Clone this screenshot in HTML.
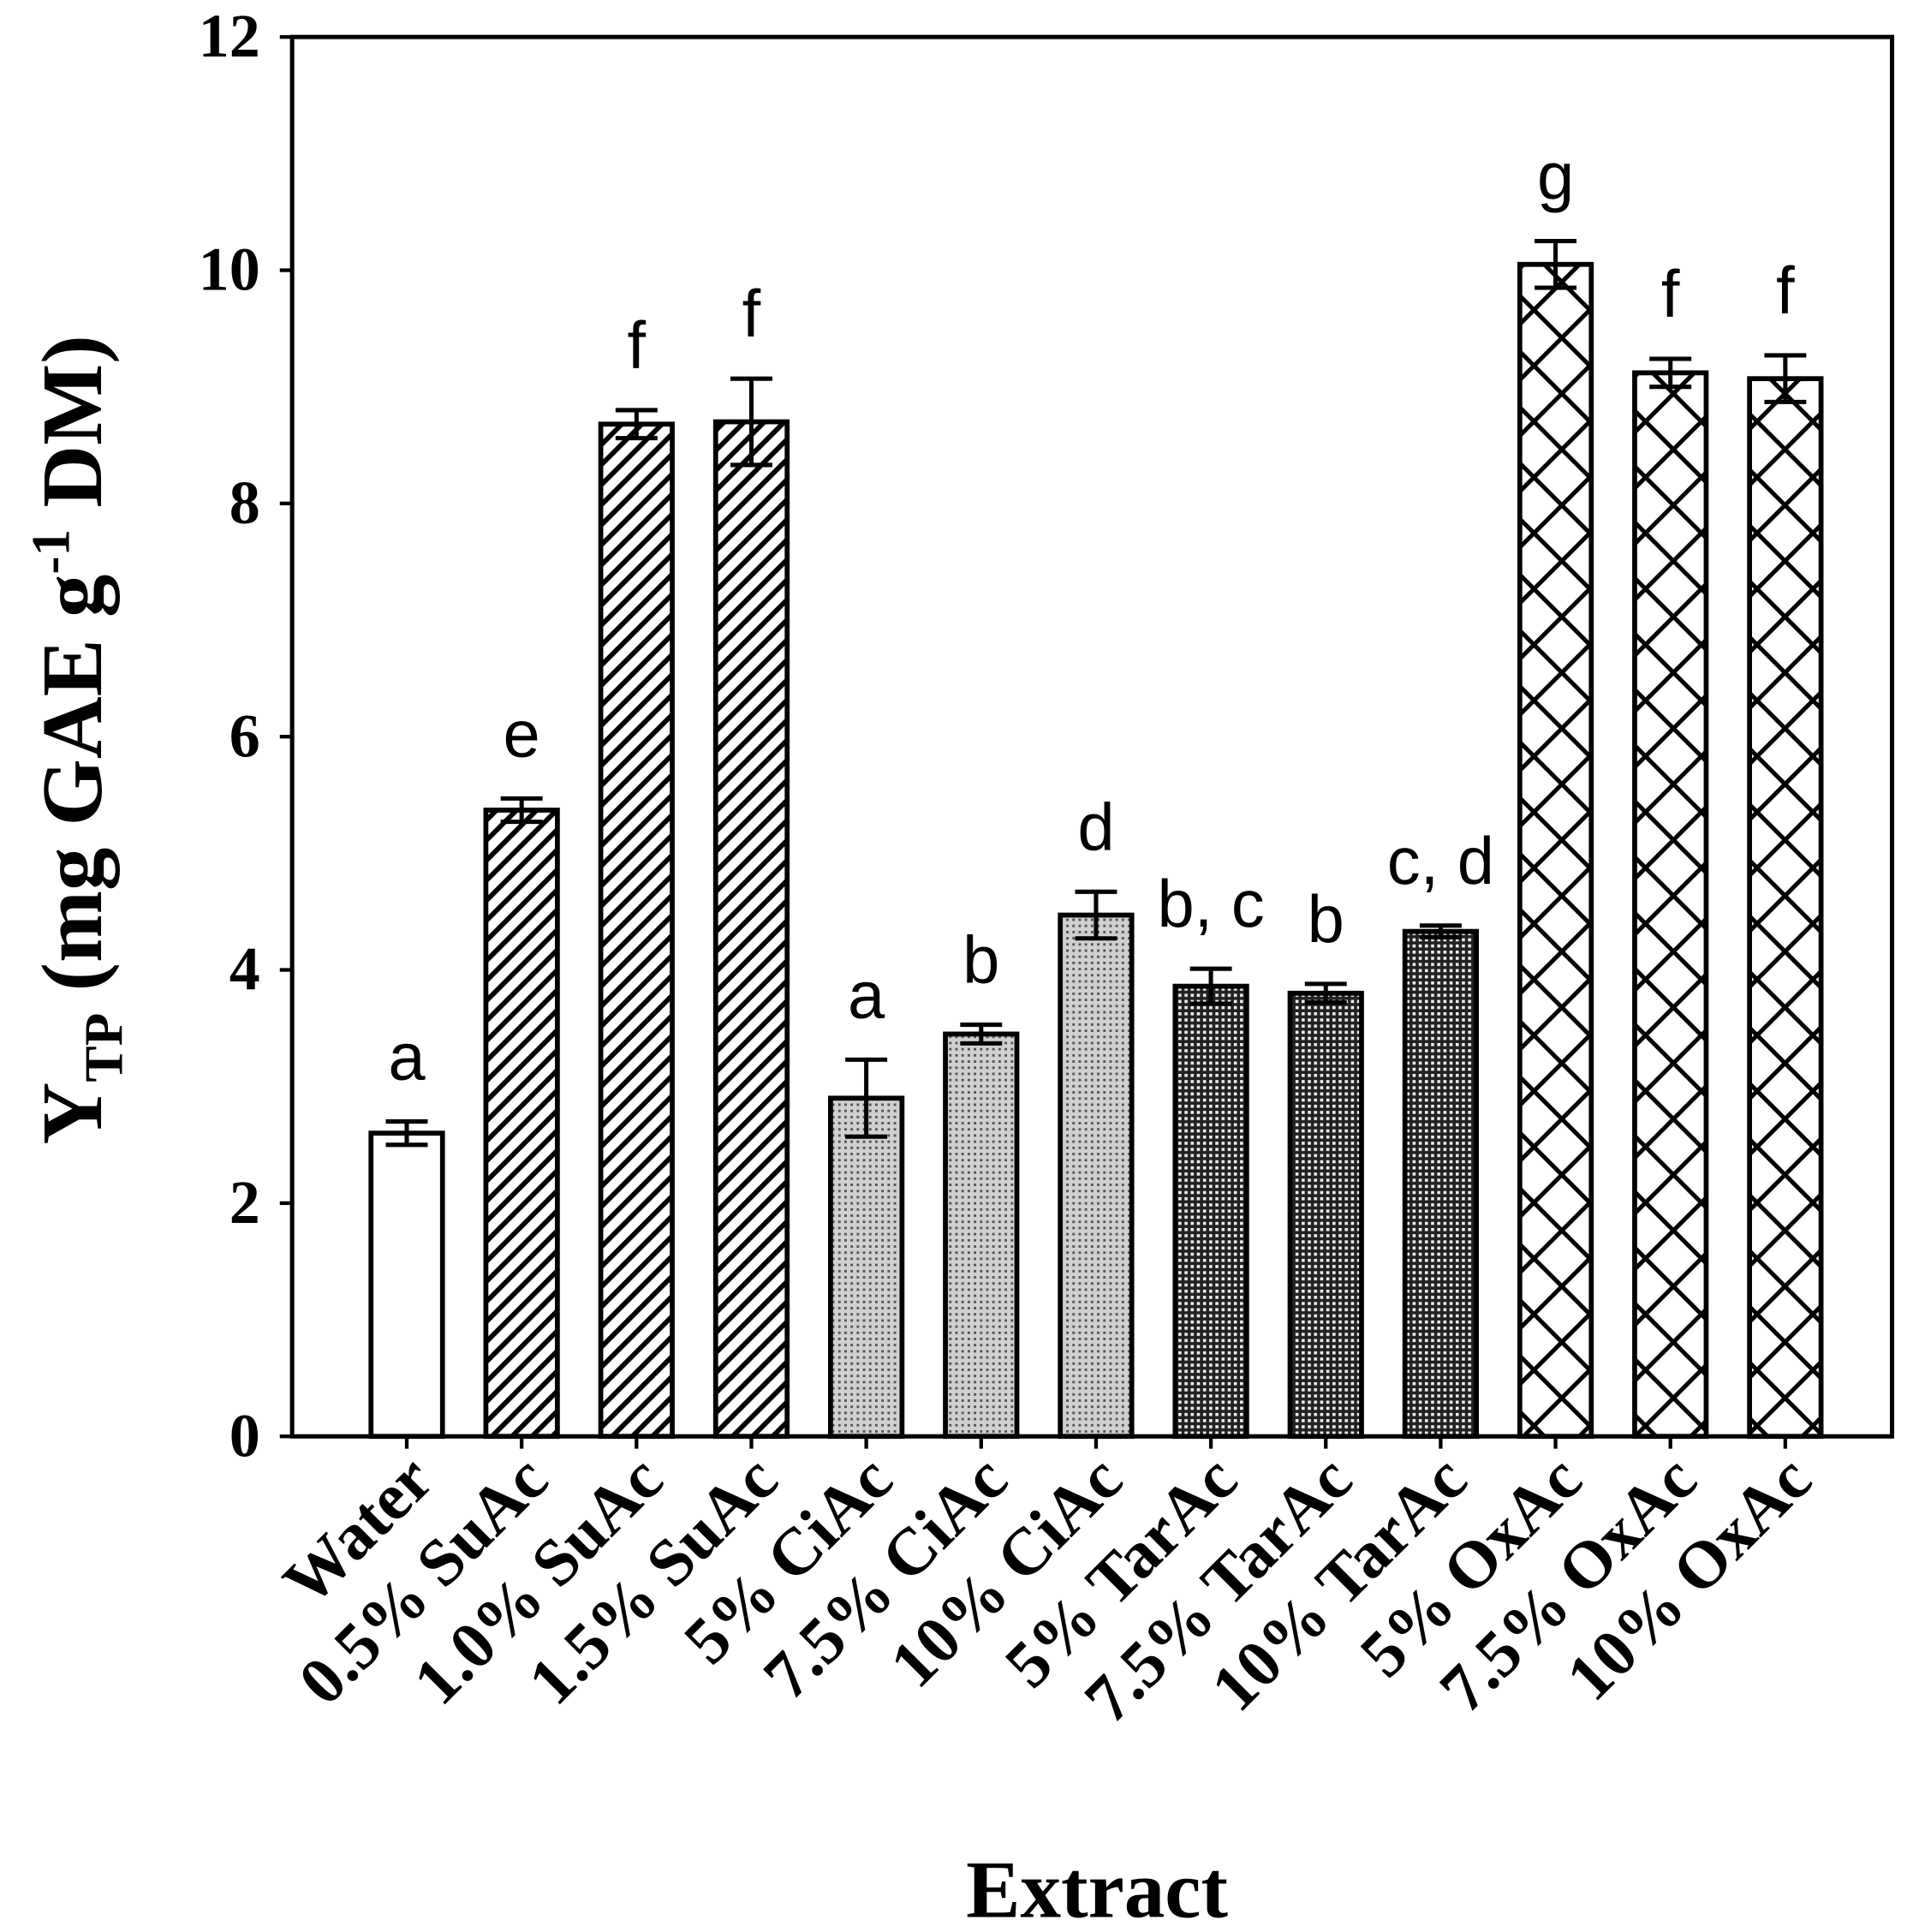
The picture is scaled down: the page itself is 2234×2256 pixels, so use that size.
<!DOCTYPE html>
<html><head><meta charset="utf-8"><style>html,body{margin:0;padding:0;background:#fff}svg{display:block}</style></head>
<body>
<svg id="chart" width="2234" height="2256" viewBox="0 0 1552 1567" preserveAspectRatio="none" xmlns="http://www.w3.org/2000/svg">
<defs>
<pattern id="diag" patternUnits="userSpaceOnUse" width="11.5" height="11.5" patternTransform="rotate(45)">
<rect width="11.5" height="11.5" fill="#fff"/><rect x="0" y="0" width="4" height="11.5" fill="#000"/></pattern>
<pattern id="dotLight" patternUnits="userSpaceOnUse" width="5" height="5">
<rect width="5" height="5" fill="#d0d0d0"/><rect width="2" height="2" fill="#555"/></pattern>
<pattern id="dotDark" patternUnits="userSpaceOnUse" width="5" height="5">
<rect width="5" height="5" fill="#222"/><rect x="1" y="1" width="2.5" height="2.5" fill="#eee"/></pattern>
<pattern id="cross" patternUnits="userSpaceOnUse" width="32" height="32" patternTransform="rotate(45)">
<rect width="32" height="32" fill="#fff"/><rect x="0" y="0" width="3.5" height="32" fill="#000"/><rect x="0" y="0" width="32" height="3.5" fill="#000"/></pattern>
</defs>
<g id="plot"></g>
</svg>
<script>
const categories=["Water","0.5% SuAc","1.0% SuAc","1.5% SuAc","5% CiAc","7.5% CiAc","10% CiAc","5% TarAc","7.5% TarAc","10% TarAc","5% OxAc","7.5% OxAc","10% OxAc"];
const values=[2.6,5.37,8.68,8.7,2.9,3.45,4.47,3.86,3.8,4.33,10.05,9.12,9.07];
const errors=[0.1,0.1,0.12,0.37,0.33,0.08,0.2,0.15,0.08,0.05,0.2,0.12,0.2];
const letters=["a","e","f","f","a","b","d","b, c","b","c, d","g","f","f"];
const fills=["#fff","url(#diag)","url(#diag)","url(#diag)","url(#dotLight)","url(#dotLight)","url(#dotLight)","url(#dotDark)","url(#dotDark)","url(#dotDark)","url(#cross)","url(#cross)","url(#cross)"];
const yTicks=[0,2,4,6,8,10,12];
const NS="http://www.w3.org/2000/svg";
const L=237,R=1535,T=30,B=1165;
const y=v=>B-(v/12)*(B-T);
const x=i=>330+i*93.2;
const BW=58;
const g=document.getElementById('plot');
function mk(t,a,txt){const e=document.createElementNS(NS,t);for(const k in a)e.setAttribute(k,a[k]);if(txt!==undefined)e.textContent=txt;g.appendChild(e);return e;}
values.forEach((v,i)=>{
 const cx=x(i);
 const b=mk('rect',{x:cx-BW/2,y:y(v),width:BW,height:B-y(v),fill:fills[i],stroke:'#000','stroke-width':4});
 
 
 const e=mk('path',{d:`M${cx-17},${y(v+errors[i])}H${cx+17}M${cx},${y(v+errors[i])}V${y(v-errors[i])}M${cx-17},${y(v-errors[i])}H${cx+17}`,stroke:'#000','stroke-width':3.5,fill:'none'});
 
 
 const t=mk('text',{x:cx,y:y(v+errors[i])-34,'text-anchor':'middle','font-family':'Liberation Sans, sans-serif','font-size':54},letters[i]);
 
 
 const tk=mk('line',{x1:cx,x2:cx,y1:B,y2:B+10,stroke:'#000','stroke-width':3});
 
 
 const lb=mk('text',{x:cx+24,y:B+38,'text-anchor':'end','font-family':'Liberation Serif, serif','font-weight':'bold','font-size':54,transform:`rotate(-45 ${cx+24} ${B+38})`},categories[i]);
 
 
});
yTicks.forEach(v=>{
 const tk=mk('line',{x1:L,x2:L-10,y1:y(v),y2:y(v),stroke:'#000','stroke-width':3});
 
 
 const t=mk('text',{x:L-26,y:y(v)+16,'text-anchor':'end','font-family':'Liberation Serif, serif','font-weight':'bold','font-size':50},String(v));
 
 
});
const fr=mk('rect',{x:L,y:T,width:R-L,height:B-T,fill:'none',stroke:'#000','stroke-width':3.5});


const xt=mk('text',{x:890,y:1555,'text-anchor':'middle','font-family':'Liberation Serif, serif','font-weight':'bold','font-size':66},'Extract');


const yt=document.createElementNS(NS,'text');


yt.setAttribute('transform','translate(82 600) rotate(-90)');
yt.setAttribute('text-anchor','middle');
yt.setAttribute('font-family','Liberation Serif, serif');
yt.setAttribute('font-weight','bold');
yt.setAttribute('font-size','70');
yt.innerHTML='Y<tspan font-size="44" dy="17">TP</tspan><tspan dy="-17"> (mg GAE g</tspan><tspan font-size="44" dy="-26">-1</tspan><tspan dy="26"> DM)</tspan>';
g.appendChild(yt);
</script>
</body></html>
